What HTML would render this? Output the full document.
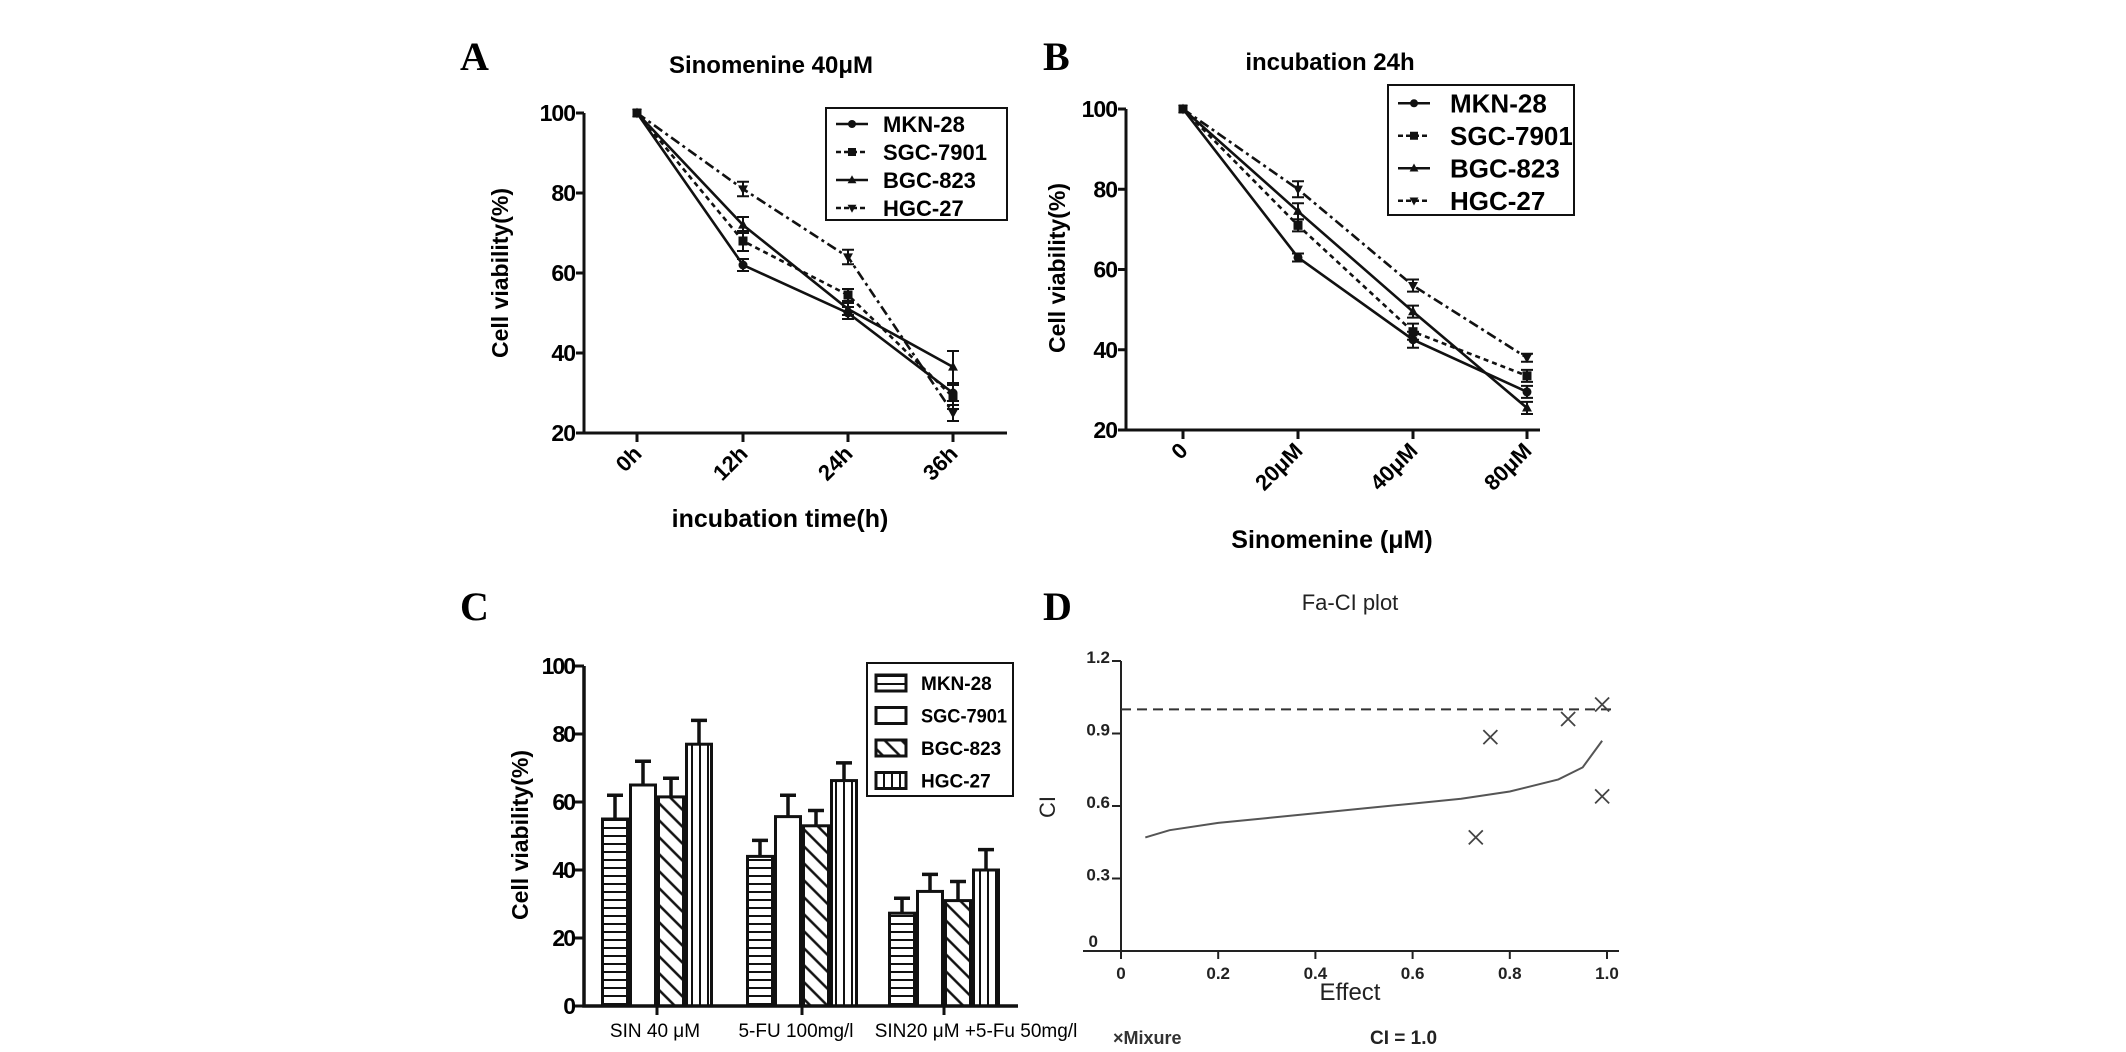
<!DOCTYPE html>
<html><head><meta charset="utf-8">
<style>
html,body{margin:0;padding:0;background:#fff;}
svg{display:block;}
text{font-family:"Liberation Sans",Arial,sans-serif;}
text.serif{font-family:"Liberation Serif","Times New Roman",serif;}
</style></head>
<body>
<svg id="fig" width="2126" height="1052" viewBox="0 0 2126 1052" xmlns="http://www.w3.org/2000/svg">
<defs>
<pattern id="pH" width="8" height="8" patternUnits="userSpaceOnUse"><rect width="8" height="8" fill="#fff"/><line x1="0" y1="4" x2="8" y2="4" stroke="#111" stroke-width="2"/></pattern>
<pattern id="pV" width="8" height="8" patternUnits="userSpaceOnUse"><rect width="8" height="8" fill="#fff"/><line x1="4" y1="0" x2="4" y2="8" stroke="#111" stroke-width="2"/></pattern>
<pattern id="pD" width="12" height="12" patternUnits="userSpaceOnUse" patternTransform="rotate(-45)"><rect width="12" height="12" fill="#fff"/><line x1="6" y1="0" x2="6" y2="12" stroke="#111" stroke-width="2.5"/></pattern>
</defs>
<g id="root"></g>
</svg>
<script>
// ---------- Panel A data ----------
const aCats = ["0h","12h","24h","36h"];
const aMKN = [100,62,50,30];
const aSGC = [100,68,54.5,29];
const aBGC = [100,72,51,36.5];
const aHGC = [100,81,64,25];
const aErrMKN = [0,1.5,1.5,2];
const aErrSGC = [0,2.5,1.5,3];
const aErrBGC = [0,2,1.5,4];
const aErrHGC = [0,1.8,1.8,2];
const aTicks = [20,40,60,80,100];
// ---------- Panel B data ----------
const bCats = ["0","20\u03bcM","40\u03bcM","80\u03bcM"];
const bMKN = [100,63,42.5,29.5];
const bSGC = [100,71,44.5,33.5];
const bBGC = [100,74.5,49.5,25.5];
const bHGC = [100,80,56,38];
const bErrMKN = [0,1,2,1.5];
const bErrSGC = [0,1.5,2,1.5];
const bErrBGC = [0,2,1.5,1.5];
const bErrHGC = [0,2,1.5,1];
const bTicks = [20,40,60,80,100];
// ---------- Panel C data ----------
const cGroups = ["SIN 40 \u03bcM","5-FU 100mg/l","SIN20 \u03bcM +5-Fu 50mg/l"];
const cMKN = [55,44,27.3];
const cSGC = [65,55.7,33.7];
const cBGC = [61.5,53,31];
const cHGC = [77,66.3,40];
const cErrMKN = [7,4.7,4.4];
const cErrSGC = [7,6.3,5];
const cErrBGC = [5.5,4.5,5.6];
const cErrHGC = [7,5.2,6];
const cTicks = [0,20,40,60,80,100];
// ---------- Panel D data ----------
const dCurveFa = [0.05,0.1,0.2,0.3,0.4,0.5,0.6,0.7,0.8,0.9,0.95,0.99];
const dCurveCI = [0.47,0.50,0.53,0.55,0.57,0.59,0.61,0.63,0.66,0.71,0.76,0.87];
const dPtsFa = [0.73,0.76,0.92,0.99,0.99];
const dPtsCI = [0.47,0.885,0.96,1.02,0.64];
const dYTicks = [0,0.3,0.6,0.9,1.2];
const dXTicks = [0,0.2,0.4,0.6,0.8,1.0];
const dRefCI = 1.0;

const NS="http://www.w3.org/2000/svg";
const root=document.getElementById('root');
function el(tag,attrs,parent){const e=document.createElementNS(NS,tag);for(const k in attrs)e.setAttribute(k,attrs[k]);(parent||root).appendChild(e);return e;}
function txt(s,attrs,parent){const e=el('text',attrs,parent);e.textContent=s;return e;}

[["A",460,70],["B",1043,70],["C",460,620],["D",1043,620]].forEach(p=>{
  const t=txt(p[0],{x:p[1],y:p[2],'font-size':40,'font-weight':'bold','class':'serif'});
  
  
});

const styles=[
 {name:"MKN-28",dash:"none",marker:"circle"},
 {name:"SGC-7901",dash:"5,4",marker:"square"},
 {name:"BGC-823",dash:"none",marker:"tri"},
 {name:"HGC-27",dash:"10,4,3,4",marker:"tridown"}
];
function marker(g,type,x,y,s){
  let m;
  if(type==="circle") m=el('circle',{cx:x,cy:y,r:s},g);
  else if(type==="square") m=el('rect',{x:x-s,y:y-s,width:2*s,height:2*s},g);
  else if(type==="tri") m=el('polygon',{points:`${x},${y-s*1.2} ${x-s*1.1},${y+s*0.8} ${x+s*1.1},${y+s*0.8}`},g);
  else m=el('polygon',{points:`${x},${y+s*1.2} ${x-s*1.1},${y-s*0.8} ${x+s*1.1},${y-s*0.8}`},g);
  m.setAttribute('fill','#111');
  return m;
}

function linePanel(cfg){
  const g=el('g',{});
  
  
  const yS=v=>cfg.y100+(100-v)*(cfg.y20-cfg.y100)/80;
  const xS=i=>cfg.xt[i];
  const ax=el('path',{d:`M${cfg.ax},${cfg.y100} L${cfg.ax},${cfg.y20} L${cfg.axEnd},${cfg.y20}`,fill:'none',stroke:'#111','stroke-width':3},g);
  
  
  cfg.ticks.forEach(t=>{
    const y=yS(t);
    el('line',{x1:cfg.ax-8,y1:y,x2:cfg.ax,y2:y,stroke:'#111','stroke-width':3},g);
    const l=txt(String(t),{x:cfg.ax-9,y:y+8,'font-size':23,'font-weight':'bold','text-anchor':'end','letter-spacing':-1},g);
    
    
  });
  cfg.cats.forEach((c,i)=>{
    const x=xS(i);
    el('line',{x1:x,y1:cfg.y20,x2:x,y2:cfg.y20+9,stroke:'#111','stroke-width':3},g);
    const l=txt(c,{x:x+6,y:cfg.y20+22,'font-size':22,'font-weight':'bold','text-anchor':'end',transform:`rotate(-45 ${x+6} ${cfg.y20+22})`},g);
    
    
  });
  const yt=txt("Cell viability(%)",{x:cfg.ytx,y:cfg.yty,'font-size':23,'font-weight':'bold','text-anchor':'middle',transform:`rotate(-90 ${cfg.ytx} ${cfg.yty})`},g);
  
  
  const xt=txt(cfg.xtitle,{x:cfg.xtx,y:cfg.xty,'font-size':25,'font-weight':'bold','text-anchor':'middle'},g);
  
  
  const tt=txt(cfg.title,{x:cfg.ttx,y:cfg.tty,'font-size':24,'font-weight':'bold','text-anchor':'middle'},g);
  
  
  cfg.series.forEach((s,si)=>{
    const st=styles[si];
    const sg=el('g',{},g);
    
    
    const pts=s.map((v,i)=>xS(i)+','+yS(v)).join(' ');
    el('polyline',{points:pts,fill:'none',stroke:'#111','stroke-width':2.6,'stroke-dasharray':st.dash},sg);
    s.forEach((v,i)=>{
      const e=cfg.errs[si][i];
      if(e>0){
        const x=xS(i);
        el('path',{d:`M${x},${yS(v+e)} L${x},${yS(v-e)} M${x-6},${yS(v+e)} L${x+6},${yS(v+e)} M${x-6},${yS(v-e)} L${x+6},${yS(v-e)}`,stroke:'#111','stroke-width':2,fill:'none'},sg);
      }
      const m=marker(sg,st.marker,xS(i),yS(v),4.5);
      
      
    });
  });
  const lg=el('g',{},g);
  
  
  el('rect',{x:cfg.lx,y:cfg.ly,width:cfg.lw,height:cfg.lh,fill:'#fff',stroke:'#111','stroke-width':2},lg);
  styles.forEach((st,i)=>{
    const y=cfg.ly+cfg.lh*(i+0.5)/4+2;
    const eg=el('g',{},lg);
    
    
    el('line',{x1:cfg.lx+10,y1:y,x2:cfg.lx+42,y2:y,stroke:'#111','stroke-width':2.6,'stroke-dasharray':st.dash==="none"?"none":"5,3"},eg);
    marker(eg,st.marker,cfg.lx+26,y,4);
    txt(st.name,{x:cfg.lx+cfg.tOff,y:y+cfg.lf*0.36,'font-size':cfg.lf,'font-weight':'bold'},eg);
  });
}

linePanel({id:'panel-a-chart',ax:584,axEnd:1007,y100:113,y20:433,xt:[637,743,848,953],cats:aCats,ticks:aTicks,
  series:[aMKN,aSGC,aBGC,aHGC],errs:[aErrMKN,aErrSGC,aErrBGC,aErrHGC],
  ytx:508,yty:273,xtitle:"incubation time(h)",xtx:780,xty:527,title:"Sinomenine 40\u03bcM",ttx:771,tty:73,
  lx:826,ly:108,lw:181,lh:112,lf:22,tOff:57});
linePanel({id:'panel-b-chart',ax:1126,axEnd:1540,y100:109,y20:430,xt:[1183,1298,1413,1527],cats:bCats,ticks:bTicks,
  series:[bMKN,bSGC,bBGC,bHGC],errs:[bErrMKN,bErrSGC,bErrBGC,bErrHGC],
  ytx:1065,yty:268,xtitle:"Sinomenine (\u03bcM)",xtx:1332,xty:548,title:"incubation 24h",ttx:1330,tty:70,
  lx:1388,ly:85,lw:186,lh:130,lf:26,tOff:62});

// ---------- Panel C ----------
(function(){
  const g=el('g',{});
  
  
  const ax=584, y0=1006, y100=666, axEnd=1018;
  const yS=v=>y0-(y0-y100)*v/100;
  const gx=[657,802,944];
  const labelX=[655,796,976];
  const bw=28;
  const fills=['url(#pH)','#fff','url(#pD)','url(#pV)'];
  const ser=[cMKN,cSGC,cBGC,cHGC], errs=[cErrMKN,cErrSGC,cErrBGC,cErrHGC];
  const names=["MKN-28","SGC-7901","BGC-823","HGC-27"];
  ser.forEach((s,si)=>{
    s.forEach((v,gi)=>{
      const x=gx[gi]-2*bw+si*bw;
      const bg=el('g',{},g);
      
      
      const e=errs[si][gi];
      el('path',{d:`M${x+bw/2},${yS(v)} L${x+bw/2},${yS(v+e)} M${x+bw/2-8},${yS(v+e)} L${x+bw/2+8},${yS(v+e)}`,stroke:'#111','stroke-width':3.5,fill:'none'},bg);
      el('rect',{x:x+1.5,y:yS(v),width:bw-3,height:y0-yS(v),fill:fills[si],stroke:'#111','stroke-width':3},bg);
    });
  });
  const a=el('path',{d:`M${ax},${y100} L${ax},${y0} L${axEnd},${y0}`,fill:'none',stroke:'#111','stroke-width':3.5},g);
  
  
  cTicks.forEach(t=>{
    const y=yS(t);
    el('line',{x1:ax-9,y1:y,x2:ax,y2:y,stroke:'#111','stroke-width':3},g);
    const l=txt(String(t),{x:ax-10,y:y+8,'font-size':23,'font-weight':'bold','text-anchor':'end','letter-spacing':-2},g);
    
    
  });
  cGroups.forEach((c,i)=>{
    el('line',{x1:gx[i],y1:y0,x2:gx[i],y2:y0+9,stroke:'#111','stroke-width':3},g);
    const l=txt(c,{x:labelX[i],y:1037,'font-size':19,'text-anchor':'middle'},g);
    
    
  });
  const yt=txt("Cell viability(%)",{x:528,y:835,'font-size':23,'font-weight':'bold','text-anchor':'middle',transform:'rotate(-90 528 835)'},g);
  
  
  const lg=el('g',{},g);
  
  
  el('rect',{x:867,y:663,width:146,height:133,fill:'#fff',stroke:'#111','stroke-width':2},lg);
  names.forEach((n,i)=>{
    const y=683+i*32.5;
    const eg=el('g',{},lg);
    
    
    el('rect',{x:876,y:y-8,width:30,height:16,fill:fills[i],stroke:'#111','stroke-width':3},eg);
    const t=txt(n,{x:921,y:y+7,'font-size':19,'font-weight':'bold'},eg);
    if(n==="SGC-7901"){t.setAttribute('textLength','86');t.setAttribute('lengthAdjust','spacingAndGlyphs');}
  });
})();

// ---------- Panel D ----------
(function(){
  const g=el('g',{});
  
  
  const ax=1121, y0=951, x1=1607, ytop=661;
  const xS=v=>ax+(x1-ax)*v;
  const yS=v=>y0-(y0-ytop)*v/1.2;
  const a=el('path',{d:`M${ax},${ytop} L${ax},${y0} M1083,${y0} L${x1+12},${y0}`,fill:'none',stroke:'#222','stroke-width':2},g);
  
  
  dYTicks.forEach(t=>{
    const y=yS(t);
    if(t>0) el('line',{x1:ax-9,y1:y,x2:ax,y2:y,stroke:'#222','stroke-width':2},g);
    const l=txt(t===0?"0":t.toFixed(1),{x:t===0?1098:ax-11,y:t===0?y-4:y+2,'font-size':17,'font-weight':'bold','text-anchor':'end',fill:'#222'},g);
    
    
  });
  dXTicks.forEach(t=>{
    const x=xS(t);
    el('line',{x1:x,y1:y0,x2:x,y2:y0+8,stroke:'#222','stroke-width':2},g);
    const l=txt(t===0?"0":t.toFixed(1),{x:x,y:y0+28,'font-size':17,'font-weight':'bold','text-anchor':'middle',fill:'#222'},g);
    
    
  });
  const ref=el('line',{x1:ax,y1:yS(dRefCI),x2:x1+4,y2:yS(dRefCI),stroke:'#333','stroke-width':2,'stroke-dasharray':'10,6'},g);
  
  
  const cur=el('polyline',{points:dCurveFa.map((f,i)=>xS(f)+','+yS(dCurveCI[i])).join(' '),fill:'none',stroke:'#555','stroke-width':2},g);
  
  
  dPtsFa.forEach((f,i)=>{
    const x=xS(f),y=yS(dPtsCI[i]);
    const m=el('path',{d:`M${x-7},${y-7} L${x+7},${y+7} M${x+7},${y-7} L${x-7},${y+7}`,stroke:'#444','stroke-width':1.8},g);
    
    
  });
  const tt=txt("Fa-CI plot",{x:1350,y:610,'font-size':22,'text-anchor':'middle',fill:'#222'},g);
  
  
  const yt=txt("CI",{x:1055,y:807,'font-size':22,'text-anchor':'middle',fill:'#222',transform:'rotate(-90 1055 807)'},g);
  
  
  const xt=txt("Effect",{x:1350,y:1000,'font-size':24,'text-anchor':'middle',fill:'#222'},g);
  
  
  const l1=txt("\u00d7Mixure",{x:1113,y:1044,'font-size':18,'font-weight':'bold',fill:'#333'},g);
  
  
  const l2=txt("CI = 1.0",{x:1370,y:1044,'font-size':19,'font-weight':'bold',fill:'#222'},g);
  
  
})();
</script>
</body></html>
